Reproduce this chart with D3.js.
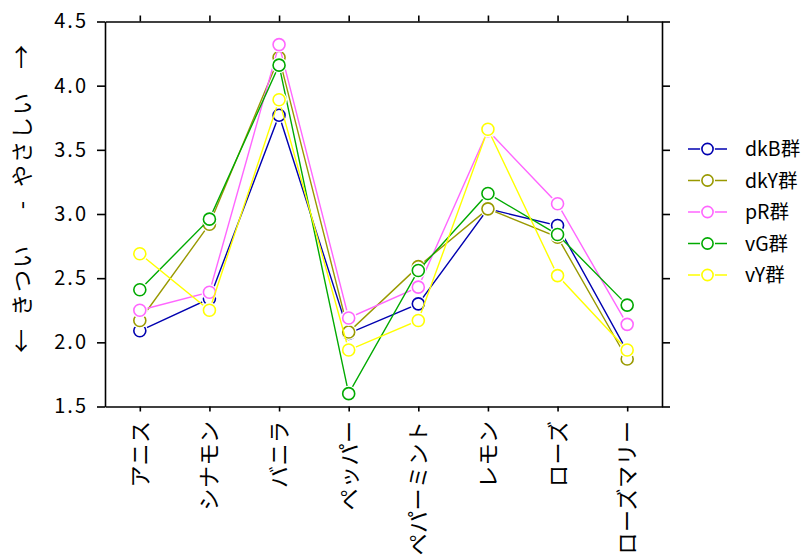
<!DOCTYPE html>
<html>
<head>
<meta charset="utf-8">
<script src="https://cdn.jsdelivr.net/npm/d3@7"></script>
<style>
  body { margin: 0; background: #fff; }
  svg text { font-family: "Noto Sans CJK JP", sans-serif; fill: #000; }
</style>
</head>
<body>
<div class="chart"></div>
<script>
const categories = ['アニス', 'シナモン', 'バニラ', 'ペッパー', 'ペパーミント', 'レモン', 'ローズ', 'ローズマリー'];
const seriesNames = ['dkB群', 'dkY群', 'pR群', 'vG群', 'vY群'];
const seriesColors = ['#0000b0', '#999900', '#ff66ff', '#00aa00', '#ffff00'];

const dkB = [2.09, 2.34, 3.77, 2.07, 2.30, 3.04, 2.91, 1.93];
const dkY = [2.17, 2.92, 4.22, 2.08, 2.59, 3.04, 2.82, 1.87];
const pR  = [2.25, 2.39, 4.32, 2.19, 2.43, 3.65, 3.08, 2.14];
const vG  = [2.41, 2.96, 4.16, 1.60, 2.56, 3.16, 2.84, 2.29];
const vY  = [2.69, 2.25, 3.89, 1.94, 2.17, 3.66, 2.52, 1.94];
const seriesValues = [dkB, dkY, pR, vG, vY];

const yTicks = [1.5, 2.0, 2.5, 3.0, 3.5, 4.0, 4.5];
// y title pieces, bottom to top, with their centre along the axis
const yTitleParts = ['←', 'きつい', '-', 'やさしい', '→'];
const yTitlePos = [341, 280, 205, 139, 57];

const W = 802, H = 559;
const box = {left: 105, right: 662, top: 21.5, bottom: 406.5};

const svg = d3.select('.chart').append('svg')
  .attr('width', W)
  .attr('height', H);

const x = d3.scalePoint()
  .domain(categories)
  .range([box.left, box.right])
  .padding(0.5);

const y = d3.scaleLinear()
  .domain([1.5, 4.5])
  .range([box.bottom, box.top]);

// axes
const axLeft = svg.append('g')
  .attr('transform', 'translate(' + box.left + ',0)')
  .call(d3.axisLeft(y).tickValues(yTicks).tickSizeInner(8).tickSizeOuter(0).tickPadding(9)
    .tickFormat(d3.format('.1f')));
const axRight = svg.append('g')
  .attr('transform', 'translate(' + box.right + ',0)')
  .call(d3.axisRight(y).tickValues(yTicks).tickSizeInner(8).tickSizeOuter(0).tickFormat(''));
const axBottom = svg.append('g')
  .attr('transform', 'translate(0,' + box.bottom + ')')
  .call(d3.axisBottom(x).tickSizeInner(5).tickSizeOuter(0).tickFormat(''));
const axTop = svg.append('g')
  .attr('transform', 'translate(0,' + box.top + ')')
  .call(d3.axisTop(x).tickSizeInner(6).tickSizeOuter(0).tickFormat(''));

[axLeft, axRight, axBottom, axTop].forEach(g => {
  g.selectAll('path, line').attr('stroke', '#000').attr('stroke-width', 1.6);
});
axLeft.selectAll('text')
  .attr('font-size', 20)
  .attr('letter-spacing', 2)
  .attr('font-family', '"Noto Sans CJK JP", sans-serif');

// x labels, rotated
svg.append('g')
  .selectAll('text')
  .data(categories)
  .enter().append('text')
  .attr('transform', d => 'translate(' + (x(d) + 8) + ',' + (box.bottom + 14) + ') rotate(-90)')
  .attr('text-anchor', 'end')
  .attr('font-size', 22)
  .attr('letter-spacing', 0.5)
  .text(d => d);

// y title
svg.append('g')
  .selectAll('text')
  .data(yTitleParts)
  .enter().append('text')
  .attr('transform', (d, i) => 'translate(30,' + yTitlePos[i] + ') rotate(-90)')
  .attr('text-anchor', 'middle')
  .attr('font-size', d => d.length > 1 ? 22 : 24)
  .attr('letter-spacing', d => d.length > 1 ? 2 : 0)
  .text(d => d);

// series
const line = d3.line()
  .x((d, i) => x(categories[i]))
  .y(d => y(d));

seriesValues.forEach((vals, s) => {
  const g = svg.append('g');
  g.append('path')
    .datum(vals)
    .attr('fill', 'none')
    .attr('stroke', seriesColors[s])
    .attr('stroke-width', 1.4)
    .attr('d', line);
  g.selectAll('.halo')
    .data(vals)
    .enter().append('circle')
    .attr('cx', (d, i) => x(categories[i]))
    .attr('cy', d => y(d))
    .attr('r', 8)
    .attr('fill', '#fff');
  g.selectAll('.dot')
    .data(vals)
    .enter().append('circle')
    .attr('cx', (d, i) => x(categories[i]))
    .attr('cy', d => y(d))
    .attr('r', 6)
    .attr('fill', '#fff')
    .attr('stroke', seriesColors[s])
    .attr('stroke-width', 1.6);
});

// legend
const legend = svg.append('g').attr('transform', 'translate(688,149)');
seriesNames.forEach((name, s) => {
  const row = legend.append('g').attr('transform', 'translate(0,' + (s * 31.5) + ')');
  row.append('line')
    .attr('x1', 0).attr('x2', 39)
    .attr('stroke', seriesColors[s])
    .attr('stroke-width', 1.6);
  row.append('circle')
    .attr('cx', 19.5).attr('r', 7.5).attr('fill', '#fff');
  row.append('circle')
    .attr('cx', 19.5).attr('r', 5.6)
    .attr('fill', '#fff')
    .attr('stroke', seriesColors[s])
    .attr('stroke-width', 1.6);
  row.append('text')
    .attr('x', 57)
    .attr('dy', '0.36em')
    .attr('font-size', 19.5)
    .text(name);
});
</script>
</body>
</html>
